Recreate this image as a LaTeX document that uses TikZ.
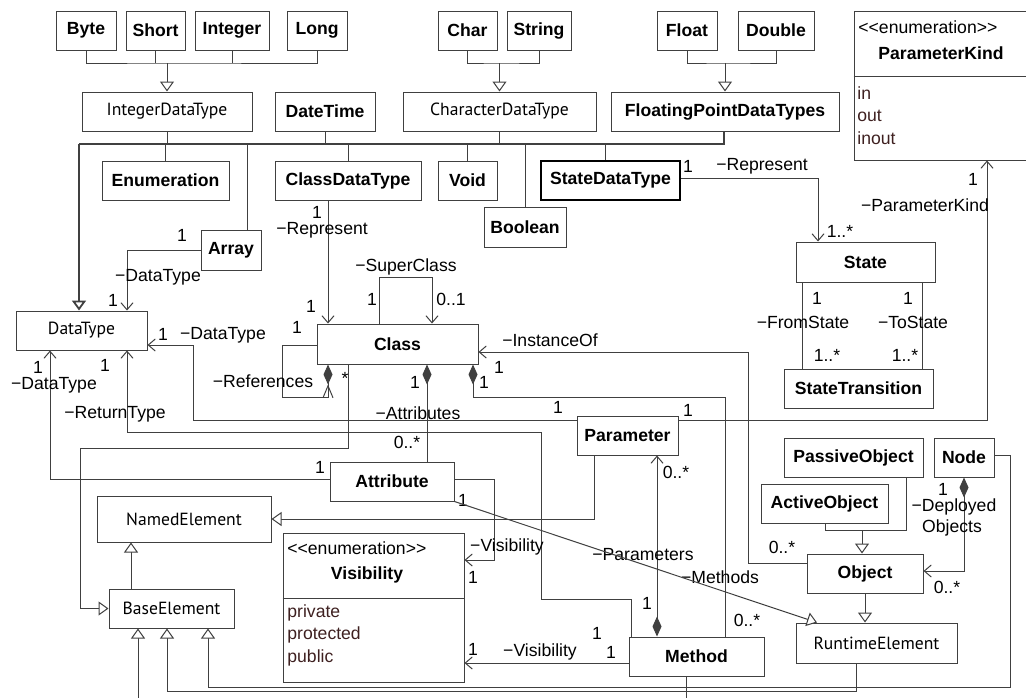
\documentclass[tikz,border=0pt]{standalone}
\usepackage{fontspec}
\setmainfont{Liberation Sans}
\newfontfamily\plainfont{PT Sans}
\usetikzlibrary{arrows.meta}
\definecolor{cLine}{RGB}{64,64,64}
\definecolor{cLit}{RGB}{62,32,32}
\newcommand{\dsz}{\fontsize{8.8}{10.5}\selectfont}
\tikzset{
  >={Straight Barb[length=3.5pt,width=6pt]},
  cls/.style={draw=cLine,line width=0.5pt,inner sep=0pt,font=\dsz\bfseries},
  clsP/.style={cls,font=\dsz\plainfont},
  clsT/.style={cls,draw=black,line width=0.9pt},
  enm/.style={draw=cLine,line width=0.5pt,inner sep=0pt},
  lit/.style={anchor=west,inner sep=0pt,font=\dsz,text=cLit},
  lbl/.style={inner sep=0pt,font=\dsz},
  link/.style={cLine,line width=0.5pt},
  bus/.style={line width=0.9pt},
  assoc/.style={link,->},
  gen/.style={link,-{Triangle[open,length=5pt,width=7pt,fill=white]}},
  comp/.style={link,{Diamond[length=10pt,width=4.5pt,fill=cLine]}-},
  compA/.style={link,{Diamond[length=10pt,width=4.5pt,fill=cLine]}->},
}
% box given by its corners (pixel grid, y downwards)
\newcommand{\umlbox}[7][cls]{%
  \node[#1,minimum width=(#4-#2)*0.5pt,minimum height=(#5-#3)*0.5pt]
    (#6) at ({(#2+#4)/2},{(#3+#5)/2}) {#7};}

\begin{document}
\begin{tikzpicture}[x=0.5pt,y=-0.5pt]
  \useasboundingbox (0,0) rectangle (1026,697);
  \clip (0,0) rectangle (1026,697);

  % primitive types
  \umlbox{56}{11}{116}{50}{byte}{Byte}
  \umlbox{126}{11}{185}{50}{short}{Short}
  \umlbox{195}{11}{269}{50}{integer}{Integer}
  \umlbox{287}{11}{347}{50}{long}{Long}
  \umlbox{438}{11}{497}{50}{char}{Char}
  \umlbox{507}{11}{571}{50}{string}{String}
  \umlbox{657}{11}{717}{50}{float}{Float}
  \umlbox{738}{11}{814}{50}{double}{Double}

  % data type families
  \umlbox[clsP]{82}{92}{252}{131}{intdt}{IntegerDataType}
  \umlbox{275}{92}{375}{131}{datetime}{DateTime}
  \umlbox[clsP]{403}{92}{596}{131}{chardt}{CharacterDataType}
  \umlbox{611}{92}{839}{131}{fpdt}{FloatingPointDataTypes}
  \umlbox{102}{161}{229}{200}{enumdt}{Enumeration}
  \umlbox{275}{161}{421}{200}{classdt}{ClassDataType}
  \umlbox{438}{161}{497}{200}{void}{Void}
  \umlbox[clsT]{541}{161}{680}{200}{statedt}{StateDataType}
  \umlbox{484}{207}{566}{247}{boolean}{Boolean}
  \umlbox{201}{230}{261}{270}{array}{Array}
  \umlbox[clsP]{16}{311}{147}{350}{datatype}{DataType}

  % model elements
  \umlbox{796}{242}{935}{282}{state}{State}
  \umlbox{784}{369}{933}{408}{statetr}{StateTransition}
  \umlbox{317}{324}{478}{364}{class}{Class}
  \umlbox{577}{416}{678}{455}{parameter}{Parameter}
  \umlbox{784}{438}{923}{477}{passive}{PassiveObject}
  \umlbox{934}{438}{994}{477}{depnode}{Node}
  \umlbox{330}{462}{454}{501}{attribute}{Attribute}
  \umlbox{761}{484}{888}{523}{active}{ActiveObject}
  \umlbox[clsP]{97}{496}{271}{542}{named}{NamedElement}
  \umlbox{807}{554}{923}{593}{object}{Object}
  \umlbox[clsP]{109}{589}{234}{628}{base}{BaseElement}
  \umlbox[clsP]{796}{623}{957}{663}{runtime}{RuntimeElement}
  \umlbox{629}{637}{764}{676}{method}{Method}

  % enumerations
  \umlbox[enm]{854}{11}{1032}{160}{paramkind}{}
  \draw[enm] (paramkind.west |- 0,76) -- (paramkind.east |- 0,76);
  \node[lbl,anchor=west] (pkStereo) at (858,27) {<{}<enumeration>{}>};
  \node[lbl,font=\dsz\bfseries] (pkName) at (941,53) {ParameterKind};
  \node[lit] (pkIn) at (857,93) {in};
  \node[lit] (pkOut) at (857,116) {out};
  \node[lit] (pkInout) at (857,138) {inout};

  \umlbox[enm]{283}{533}{464}{682}{visibility}{}
  \draw[enm] (visibility.west |- 0,598) -- (visibility.east |- 0,598);
  \node[lbl,anchor=west] (visStereo) at (287,548) {<{}<enumeration>{}>};
  \node[lbl,font=\dsz\bfseries] (visName) at (367,575) {Visibility};
  \node[lit] (visPriv) at (287,613) {private};
  \node[lit] (visProt) at (287,635) {protected};
  \node[lit] (visPub) at (287,658) {public};

  % generalisations among the data types
  \coordinate (ibus) at (167,63);
  \draw[link] (byte.south) |- (ibus) -| (long.south);
  \draw[link] (short.south) -- (short.south |- ibus);
  \draw[link] (integer.south) -- (integer.south |- ibus);
  \draw[gen] (ibus) -- (intdt.north);
  \coordinate (cbus) at (chardt.north |- ibus);
  \draw[link] (char.south) |- (cbus) -| (string.south);
  \draw[gen] (cbus) -- (chardt.north);
  \coordinate (fbus) at (fpdt.north |- ibus);
  \draw[link] (float.south) |- (fbus) -| (double.south);
  \draw[gen] (fbus) -- (fpdt.north);

  \coordinate (dbus) at (79,144);
  \coordinate (dbusR) at (724,144);
  \draw[link,bus] (dbus) -- (dbusR) -- (fpdt.south -| dbusR);
  \draw[link] (intdt.south) -- (intdt.south |- dbus);
  \draw[link] (datetime.south) -- (datetime.south |- dbus);
  \draw[link] (chardt.south) -- (chardt.south |- dbus);
  \draw[link] (enumdt.north |- dbus) -- (enumdt.north);
  \draw[link] (classdt.north |- dbus) -- (classdt.north);
  \draw[link] (void.north |- dbus) -- (void.north);
  \draw[link] (boolean.north |- dbus) -- (boolean.north);
  \draw[link] (605,144) -- (statedt.north -| 605,0);
  \draw[link] (247,144) -- (array.north -| 247,0);
  \draw[gen,bus] (dbus) -- (datatype.north -| dbus);

  % associations
  \draw[assoc] (statedt.east |- 0,178) -| (state.north -| 818,0);
  \node[lbl] (l1) at (688,166) {1};
  \node[lbl] (l2) at (762,166) {−Represent};
  \node[lbl] (l3) at (840,231) {1..*};

  \draw[assoc] (classdt.south -| 328,0) -- (class.north -| 328,0);
  \node[lbl] (l4) at (317,212) {1};
  \node[lbl] (l5) at (322,230) {−Represent};
  \node[lbl] (l6) at (311,306) {1};

  \draw[assoc] (class.north -| 379,0) -- (379,277) -| (class.north -| 432,0);
  \node[lbl] (l7) at (406,267) {−SuperClass};
  \node[lbl] (l8) at (372,299) {1};
  \node[lbl] (l9) at (451,299) {0..1};

  \draw[link,-{Straight Barb[length=6pt,width=5pt] Diamond[length=10pt,width=4.5pt,fill=cLine]}]
    (class.west |- 0,345) -- (282,345) |- (328,397) -- (class.south -| 328,0);
  \node[lbl] (l10) at (297,327) {1};
  \node[lbl] (l11) at (263,381) {−References};
  \node[lbl] (l12) at (345,378) {*};

  \draw[gen] (class.south -| 348,0) |- (80,448) |- (base.west);

  \draw[comp] (class.south -| 427,0) -- (attribute.north -| 427,0);
  \node[lbl] (l13) at (415,382) {1};
  \node[lbl] (l14) at (418,413) {−Attributes};
  \node[lbl] (l15) at (407,442) {0..*};

  \draw[comp] (class.south -| 473,0) |- (725,397) -- (method.north -| 725,0);
  \node[lbl] (l16) at (484,382) {1};
  \node[lbl] (l17) at (720,577) {−Methods};
  \node[lbl] (l18) at (747,620) {0..*};

  \draw[assoc] (object.west |- 0,563) -| (748,352) -- (class.east |- 0,352);
  \node[lbl] (l19) at (550,340) {−InstanceOf};
  \node[lbl] (l20) at (499,367) {1};
  \node[lbl] (l21) at (782,547) {0..*};

  \draw[assoc] (array.west) -| (datatype.north -| 127,0);
  \node[lbl] (l22) at (182,235) {1};
  \node[lbl] (l23) at (158,277) {−DataType};
  \node[lbl] (l24) at (113,300) {1};

  \draw[assoc] (parameter.west |- 0,420) -| (193,345) -- (datatype.east |- 0,345);
  \node[lbl] (l25) at (163,334) {1};
  \node[lbl] (l26) at (223,335) {−DataType};
  \node[lbl] (l27) at (558,407) {1};

  \draw[assoc] (parameter.east |- 0,420) -| (paramkind.south -| 987,0);
  \node[lbl] (l28) at (688,410) {1};
  \node[lbl] (l29) at (973,179) {1};
  \node[lbl] (l30) at (925,205) {−ParameterKind};

  \draw[assoc] (attribute.west |- 0,479) -| (datatype.south -| 50,0);
  \node[lbl] (l31) at (320,467) {1};
  \node[lbl] (l32) at (38,367) {1};
  \node[lbl] (l33) at (54,385) {−DataType};

  \draw[assoc] (method.north -| 631,0) |- (541,599) |- (127,432) -- (datatype.south -| 127,0);
  \node[lbl] (l34) at (105,365) {1};
  \node[lbl] (l35) at (115,414) {−ReturnType};
  \node[lbl] (l36) at (597,633) {1};

  \draw[assoc] (attribute.east |- 0,479) -| (494,560) -- (visibility.east |- 0,560);
  \node[lbl] (l37) at (507,547) {−Visibility};
  \node[lbl] (l38) at (473,577) {1};
  \node[lbl] (l39) at (463,500) {1};

  \draw[assoc] (method.west |- 0,663) -- (visibility.east |- 0,663);
  \node[lbl] (l40) at (473,649) {1};
  \node[lbl] (l41) at (540,652) {−Visibility};
  \node[lbl] (l42) at (611,652) {1};

  \draw[compA] (method.north -| 657,0) -- (parameter.south -| 657,0);
  \node[lbl] (l43) at (647,603) {1};
  \node[lbl] (l44) at (676,472) {0..*};
  \node[lbl] (l45) at (643,555) {−Parameters};

  \draw[compA] (depnode.south -| 964,0) |- (object.east |- 0,571);
  \node[lbl] (l46) at (943,489) {1};
  \node[lbl] (l47) at (954,507) {−Deployed};
  \node[lbl] (l48) at (952,528) {Objects};
  \node[lbl] (l49) at (947,587) {0..*};

  \draw[link] (state.south -| 802,0) -- (statetr.north -| 802,0);
  \node[lbl] (l50) at (817,298) {1};
  \node[lbl] (l51) at (803,322) {−FromState};
  \node[lbl] (l52) at (827,355) {1..*};
  \draw[link] (state.south -| 922,0) -- (statetr.north -| 922,0);
  \node[lbl] (l53) at (908,298) {1};
  \node[lbl] (l54) at (913,322) {−ToState};
  \node[lbl] (l55) at (905,355) {1..*};

  % element hierarchy
  \draw[gen] (parameter.south -| 594,0) |- (named.east);
  \draw[gen] (base.north -| 131,0) -- (named.south -| 131,0);
  \draw[gen] (attribute.south east) -- (runtime.north -| 817,0);
  \draw[gen] (object.south -| 865,0) -- (runtime.north -| 865,0);
  \coordinate (obus) at (862,530);
  \draw[link] (active.south -| 825,0) |- (obus) -| (passive.south -| 906,0);
  \draw[gen] (obus) -- (object.north -| obus);
  \draw[gen] (depnode.east |- 0,455) -| (1010,687) -| (base.south -| 208,0);
  \draw[gen] (runtime.south -| 856,0) |- (167,691) -- (base.south -| 167,0);
  \draw[gen] (method.south -| 686,0) |- (138,705) -- (base.south -| 138,0);
\end{tikzpicture}
\end{document}
